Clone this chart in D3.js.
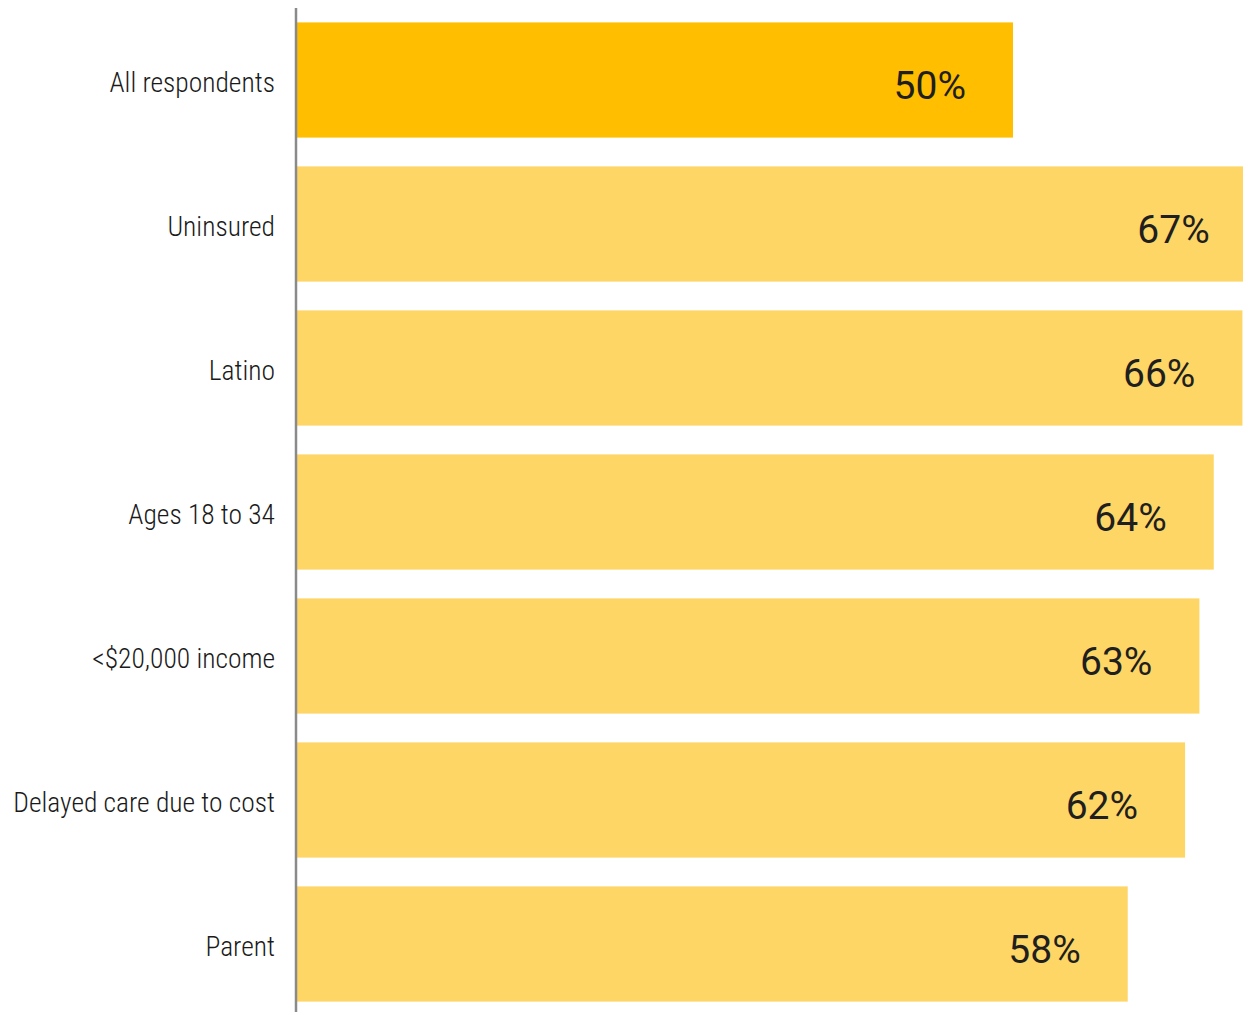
<!DOCTYPE html>
<html>
<head>
<meta charset="utf-8">
<script src="https://cdn.jsdelivr.net/npm/d3@7"></script>
<style>
  html, body { margin: 0; padding: 0; background: #fff; }
  svg { display: block; }
  .cat { font-family: "Roboto Condensed", "Liberation Sans Narrow", "DejaVu Sans Condensed", sans-serif; font-stretch: condensed; font-weight: 300; font-size: 27.5px; fill: #1a1a1a; }
  .val { font-family: Roboto, "Liberation Sans", sans-serif; font-size: 39px; fill: #1f1f1f; }
</style>
</head>
<body>
<script>
// Share of each group, in percent
const categories = ["All respondents", "Uninsured", "Latino", "Ages 18 to 34", "<$20,000 income", "Delayed care due to cost", "Parent"];
const values = [50, 67, 66, 64, 63, 62, 58];
const valueLabels = ["50%", "67%", "66%", "64%", "63%", "62%", "58%"];
const highlight = ["All respondents"];

const W = 1243, H = 1012;
const axisX = 296;

const svg = d3.select("body").append("svg").attr("width", W).attr("height", H);

const x = d3.scaleLinear().domain([0, 50]).range([axisX, 1013]);
const y = d3.scaleBand().domain(categories).range([8, 1016]).paddingInner(0.2).paddingOuter(0.1);

svg.append("defs").append("clipPath").attr("id", "plot")
  .append("rect").attr("x", 0).attr("y", 0).attr("width", W).attr("height", H);

const bars = svg.append("g").attr("clip-path", "url(#plot)");

bars.selectAll("rect").data(categories).join("rect")
  .attr("x", axisX)
  .attr("y", d => y(d))
  .attr("width", (d, i) => x(values[i]) - axisX)
  .attr("height", y.bandwidth())
  .attr("fill", d => highlight.includes(d) ? "#FFBE00" : "#FED666");

svg.append("g").selectAll("text").data(categories).join("text")
  .attr("class", "val")
  .attr("x", (d, i) => x(values[i]) - 47)
  .attr("y", d => y(d) + y.bandwidth() / 2 + 6)
  .attr("text-anchor", "end")
  .attr("dominant-baseline", "central")
  .text((d, i) => valueLabels[i]);

svg.append("g").selectAll("text").data(categories).join("text")
  .attr("class", "cat")
  .attr("x", axisX - 21)
  .attr("y", d => y(d) + y.bandwidth() / 2 + 2)
  .attr("text-anchor", "end")
  .attr("dominant-baseline", "central")
  .text(d => d);

svg.append("line")
  .attr("x1", axisX).attr("x2", axisX)
  .attr("y1", 8).attr("y2", H)
  .attr("stroke", "#8a8a8a").attr("stroke-width", 2.5);
</script>
</body>
</html>
